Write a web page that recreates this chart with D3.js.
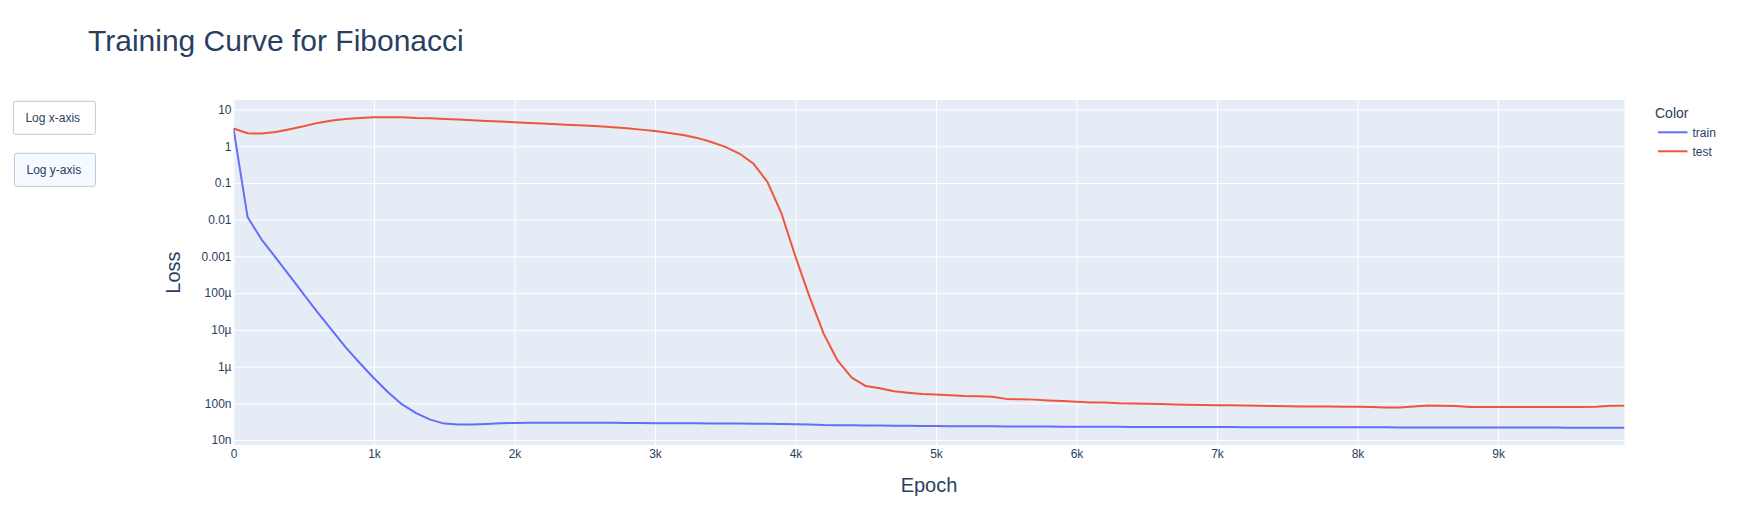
<!DOCTYPE html>
<html>
<head>
<meta charset="utf-8">
<script src="https://cdn.jsdelivr.net/npm/d3@7"></script>
<style>
  html, body { margin: 0; padding: 0; background: #fff; }
  svg { display: block; }
  text { font-family: "Liberation Sans", Arial, sans-serif; fill: #2a3f5f; }
</style>
</head>
<body>
<svg id="chart" width="1738" height="525"></svg>
<script>
const epochs = [0,100,200,300,400,500,600,700,800,900,1000,1100,1200,1300,1400,1500,1600,1700,1800,1900,
  2000,2100,2200,2300,2400,2500,2600,2700,2800,2900,3000,3100,3200,3300,3400,3500,3600,3700,3800,3900,
  4000,4100,4200,4300,4400,4500,4600,4700,4800,4900,5000,5100,5200,5300,5400,5500,5600,5700,5800,5900,
  6000,6100,6200,6300,6400,6500,6600,6700,6800,6900,7000,7100,7200,7300,7400,7500,7600,7700,7800,7900,
  8000,8100,8200,8300,8400,8500,8600,8700,8800,8900,9000,9100,9200,9300,9400,9500,9600,9700,9800,9900];

const trainLoss = [3.04,1.19e-2,2.88e-3,9.3e-4,2.95e-4,9.3e-5,2.95e-5,9.8e-6,3.3e-6,1.23e-6,
  4.8e-7,2.0e-7,9.3e-8,5.4e-8,3.6e-8,2.8e-8,2.63e-8,2.66e-8,2.75e-8,2.85e-8,
  2.92e-8,2.95e-8,2.95e-8,2.95e-8,2.95e-8,2.95e-8,2.95e-8,2.95e-8,2.9e-8,2.9e-8,
  2.88e-8,2.87e-8,2.86e-8,2.85e-8,2.84e-8,2.83e-8,2.8e-8,2.78e-8,2.76e-8,2.74e-8,
  2.7e-8,2.66e-8,2.55e-8,2.53e-8,2.51e-8,2.49e-8,2.47e-8,2.46e-8,2.44e-8,2.42e-8,
  2.4e-8,2.39e-8,2.38e-8,2.37e-8,2.36e-8,2.35e-8,2.34e-8,2.33e-8,2.32e-8,2.31e-8,
  2.3e-8,2.295e-8,2.29e-8,2.285e-8,2.28e-8,2.275e-8,2.27e-8,2.265e-8,2.26e-8,2.255e-8,
  2.25e-8,2.247e-8,2.244e-8,2.241e-8,2.238e-8,2.235e-8,2.232e-8,2.229e-8,2.226e-8,2.223e-8,
  2.22e-8,2.217e-8,2.214e-8,2.211e-8,2.208e-8,2.205e-8,2.202e-8,2.199e-8,2.196e-8,2.193e-8,
  2.19e-8,2.187e-8,2.184e-8,2.181e-8,2.178e-8,2.175e-8,2.172e-8,2.169e-8,2.165e-8,2.16e-8];

const testLoss = [3.04,2.26,2.22,2.45,2.91,3.51,4.33,5.01,5.55,5.92,
  6.17,6.17,6.17,5.92,5.8,5.55,5.33,5.12,4.9,4.7,
  4.51,4.33,4.15,3.98,3.8,3.66,3.51,3.3,3.09,2.84,
  2.6,2.31,2.04,1.69,1.31,0.96,0.634,0.339,0.107,0.0148,
  9.8e-4,7.9e-5,7.9e-6,1.45e-6,5.0e-7,2.95e-7,2.57e-7,2.14e-7,1.95e-7,1.78e-7,
  1.74e-7,1.66e-7,1.58e-7,1.55e-7,1.51e-7,1.32e-7,1.29e-7,1.26e-7,1.2e-7,1.15e-7,
  1.1e-7,1.05e-7,1.05e-7,1.0e-7,9.9e-8,9.77e-8,9.55e-8,9.33e-8,9.12e-8,9.0e-8,
  8.9e-8,8.8e-8,8.7e-8,8.57e-8,8.4e-8,8.3e-8,8.2e-8,8.2e-8,8.13e-8,8.05e-8,
  8.05e-8,7.9e-8,7.73e-8,7.73e-8,8.2e-8,8.75e-8,8.57e-8,8.4e-8,7.9e-8,7.9e-8,
  7.9e-8,7.9e-8,7.9e-8,7.9e-8,7.9e-8,7.9e-8,7.9e-8,8.05e-8,8.57e-8,8.57e-8];

const seriesNames = ["train", "test"];
const seriesColors = ["#636efa", "#EF553B"];

const xTickVals = [0,1000,2000,3000,4000,5000,6000,7000,8000,9000];
const xTickLabels = ["0","1k","2k","3k","4k","5k","6k","7k","8k","9k"];
const yTickVals = [10,1,0.1,0.01,0.001,1e-4,1e-5,1e-6,1e-7,1e-8];
const yTickLabels = ["10","1","0.1","0.01","0.001","100µ","10µ","1µ","100n","10n"];

const svg = d3.select("#chart");
const plot = { left: 233.5, right: 1624.5, top: 100, bottom: 445 };

const x = d3.scaleLinear()
  .domain(d3.extent(epochs))
  .range([plot.left, plot.right]);

const allLog = trainLoss.concat(testLoss).map(v => Math.log10(v));
const lo = d3.min(allLog), hi = d3.max(allLog);
const span = (hi - lo) / 0.9;
const y = d3.scaleLog()
  .domain([Math.pow(10, lo - 0.05 * span), Math.pow(10, hi + 0.05 * span)])
  .range([plot.bottom, plot.top]);

// background
svg.append("rect")
  .attr("x", plot.left).attr("y", plot.top)
  .attr("width", plot.right - plot.left).attr("height", plot.bottom - plot.top)
  .attr("fill", "#E5ECF6");

// grid via axes
const xGrid = d3.axisBottom(x).tickValues(xTickVals)
  .tickSize(-(plot.bottom - plot.top)).tickFormat("");
svg.append("g").attr("transform", `translate(0,${plot.bottom})`).call(xGrid)
  .call(g => g.select(".domain").remove())
  .call(g => g.selectAll("line").attr("stroke", "#fff").attr("stroke-width", 1));

const yGrid = d3.axisLeft(y).tickValues(yTickVals)
  .tickSize(-(plot.right - plot.left)).tickFormat("");
svg.append("g").attr("transform", `translate(${plot.left},0)`).call(yGrid)
  .call(g => g.select(".domain").remove())
  .call(g => g.selectAll("line").attr("stroke", "#fff").attr("stroke-width", 1));

// tick labels
const xAxis = d3.axisBottom(x).tickValues(xTickVals).tickSize(0).tickPadding(0)
  .tickFormat((d, i) => xTickLabels[i]);
svg.append("g").attr("transform", `translate(0,${plot.bottom})`).call(xAxis)
  .call(g => g.select(".domain").remove())
  .call(g => g.selectAll("text").attr("font-size", 12).attr("fill", "#2a3f5f")
    .attr("font-family", '"Liberation Sans", Arial, sans-serif')
    .attr("dy", null).attr("y", 13));

const yAxis = d3.axisLeft(y).tickValues(yTickVals).tickSize(0).tickPadding(2)
  .tickFormat((d, i) => yTickLabels[i]);
svg.append("g").attr("transform", `translate(${plot.left},0)`).call(yAxis)
  .call(g => g.select(".domain").remove())
  .call(g => g.selectAll("text").attr("font-size", 12).attr("fill", "#2a3f5f")
    .attr("font-family", '"Liberation Sans", Arial, sans-serif'));

// clip
svg.append("clipPath").attr("id", "clip").append("rect")
  .attr("x", plot.left).attr("y", plot.top)
  .attr("width", plot.right - plot.left).attr("height", plot.bottom - plot.top);

const line = d3.line().x(d => x(d[0])).y(d => y(d[1]));
const series = [trainLoss, testLoss];
series.forEach((vals, si) => {
  svg.append("path")
    .datum(epochs.map((e, i) => [e, vals[i]]))
    .attr("clip-path", "url(#clip)")
    .attr("fill", "none")
    .attr("stroke", seriesColors[si])
    .attr("stroke-width", 2)
    .attr("stroke-linejoin", "round")
    .attr("d", line);
});

// title
svg.append("text").attr("x", 88).attr("y", 50.7)
  .attr("font-size", 30).text("Training Curve for Fibonacci");

// axis titles
svg.append("text")
  .attr("x", (plot.left + plot.right) / 2).attr("y", 492)
  .attr("text-anchor", "middle").attr("font-size", 20).text("Epoch");
svg.append("text")
  .attr("transform", `translate(180,${(plot.top + plot.bottom) / 2}) rotate(-90)`)
  .attr("text-anchor", "middle").attr("font-size", 20).text("Loss");

// legend
svg.append("text").attr("x", 1655).attr("y", 118.3).attr("font-size", 14).text("Color");
seriesNames.forEach((name, i) => {
  const cy = 132.3 + i * 19;
  svg.append("line").attr("x1", 1658).attr("x2", 1687.5).attr("y1", cy).attr("y2", cy)
    .attr("stroke", seriesColors[i]).attr("stroke-width", 2);
  svg.append("text").attr("x", 1692.5).attr("y", cy + 4.3).attr("font-size", 12).text(name);
});

// buttons
const buttons = [
  { label: "Log x-axis", x: 13.4, y: 101.3, w: 82, h: 33, fill: "#ffffff" },
  { label: "Log y-axis", x: 14.5, y: 153.3, w: 81, h: 33, fill: "#F4FAFF" }
];
buttons.forEach(b => {
  svg.append("rect").attr("x", b.x).attr("y", b.y).attr("width", b.w).attr("height", b.h)
    .attr("rx", 2).attr("ry", 2)
    .attr("fill", b.fill).attr("stroke", "#BEC8D9").attr("stroke-width", 1);
  svg.append("text").attr("x", b.x + 12).attr("y", b.y + 20.5)
    .attr("font-size", 12).text(b.label);
});
</script>
</body>
</html>
